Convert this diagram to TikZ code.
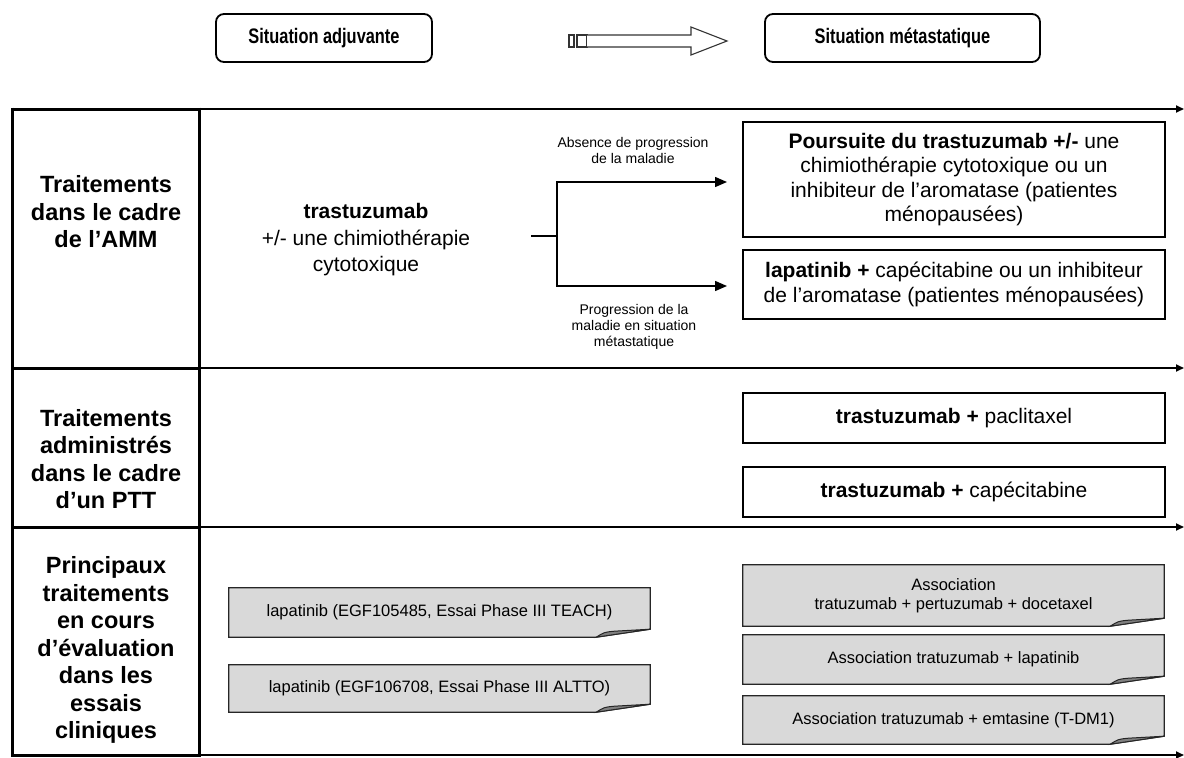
\documentclass[tikz,border=0pt]{standalone}
\usepackage{fontspec}
\setmainfont{Liberation Sans}
\newfontfamily\headfont[FakeStretch=0.78]{Liberation Sans}
\usetikzlibrary{arrows.meta,backgrounds}

\definecolor{boxgray}{RGB}{217,217,217}

% gray note box with a folded lower right corner, drawn round a named node
\newcommand\foldbox[1]{%
  \begin{scope}[on background layer]
    \filldraw[fill=boxgray,draw=black!85,line width=1.2pt]
      (#1.north west) -- (#1.north east) -- ([yshift=8pt]#1.south east)
      -- ([xshift=-54pt]#1.south east) -- (#1.south west) -- cycle;
    \filldraw[fill=black!50,draw=black!85,line width=1pt]
      ([xshift=-54pt]#1.south east)
      .. controls ([xshift=-46pt,yshift=5pt]#1.south east) .. ([xshift=-36pt,yshift=6pt]#1.south east)
      -- ([yshift=8pt]#1.south east) -- cycle;
  \end{scope}}

\begin{document}
\begin{tikzpicture}[x=1pt,y=-1pt,
  lbl/.style={align=center,inner sep=0pt,font=\fontsize{23.5}{27.5}\selectfont\bfseries},
  txt/.style={align=center,inner sep=0pt,font=\fontsize{21}{24.5}\selectfont},
  small/.style={align=center,inner sep=0pt,font=\fontsize{14}{16}\selectfont},
  hbox/.style={draw,line width=1.8pt,rounded corners=8pt,minimum height=48pt,inner sep=0pt,
    font=\headfont\bfseries\fontsize{21}{23}\selectfont},
  wbox/.style={draw,line width=1.3pt,minimum width=422pt,inner sep=0pt,align=center,
    font=\fontsize{21}{24.5}\selectfont},
  gbox/.style={minimum width=421pt,inner sep=0pt,align=center,
    font=\fontsize{16.5}{19.5}\selectfont},
  frame/.style={line width=3pt},
  timeline/.style={line width=1.8pt,-{Triangle[length=8pt,width=7pt]}},
  branch/.style={line width=1.5pt},
  brtip/.style={-{Triangle[length=12pt,width=10pt]}},
  blockarrow/.style={draw=black!80,line width=1.1pt,fill=white}
]
\useasboundingbox (0,0) rectangle (1184,758);

% header
\node[hbox,minimum width=216pt] (hA) at (324,38) {Situation adjuvante};
\node[hbox,minimum width=275pt] (hB) at (902.5,38) {Situation métastatique};

% striped block arrow between the two headers
\draw[blockarrow] (569,35) rectangle (574,47);
\draw[blockarrow] (577,35) rectangle (587,47);
\draw[blockarrow] (587,35) -- (691,35) -- (691,27) -- (727,41) -- (691,55) -- (691,47) -- (587,47);

% table frame: label column and row lines
\coordinate (r0a) at (12,109);  \coordinate (r0b) at (199,109);  \coordinate (r0c) at (1184,109);
\coordinate (r1a) at (12,368);  \coordinate (r1b) at (199,368);  \coordinate (r1c) at (1184,368);
\coordinate (r2a) at (12,527);  \coordinate (r2b) at (199,527);  \coordinate (r2c) at (1184,527);
\coordinate (r3a) at (12,755);  \coordinate (r3b) at (199,755);  \coordinate (r3c) at (1184,755);

\draw[timeline] (r0b) -- (r0c);
\draw[timeline] (r1b) -- (r1c);
\draw[timeline] (r2b) -- (r2c);
\draw[timeline] (r3b) -- (r3c);
\draw[frame] (r0a) -- (r0b);
\draw[frame] (r1a) -- (r1b);
\draw[frame] (r2a) -- (r2b);
\draw[frame] (r3a) -- (r3b);
\draw[frame] ([yshift=1.5pt]r0a) -- ([yshift=-1.5pt]r3a);
\draw[frame] ([yshift=1.5pt]r0b) -- ([yshift=-1.5pt]r3b);

% row labels
\node[lbl] (l1) at (106,212) {Traitements\\dans le cadre\\de l’AMM};
\node[lbl] (l2) at (106,459) {Traitements\\administrés\\dans le cadre\\d’un PTT};
\node[lbl] (l3) at (106,650) {Principaux\\traitements\\en cours\\d’évaluation\\dans les\\essais\\cliniques};

% row 1
\node[txt,font=\fontsize{21}{26.5}\selectfont] (t1) at (366,240)
  {\textbf{trastuzumab}\\+/- une chimiothérapie\\cytotoxique};

\node[wbox,minimum height=115pt] (bA) at (954,179.5)
  {\textbf{Poursuite du trastuzumab +/-} une\\chimiothérapie cytotoxique ou un\\inhibiteur de l’aromatase (patientes\\ménopausées)};
\node[wbox,minimum height=69pt] (bB) at (954,284.5)
  {\textbf{lapatinib +} capécitabine ou un inhibiteur\\de l’aromatase (patientes ménopausées)};

\coordinate (bs) at (531,236);
\coordinate (bj) at (557,236);
\coordinate (up) at (727,182);
\coordinate (dn) at (727,286);
\draw[branch] (bs) -- (bj);
\draw[branch,brtip] (bj) |- (up);
\draw[branch,brtip] (bj) |- (dn);

\node[small] (s1) at (633,150) {Absence de progression\\de la maladie};
\node[small] (s2) at (634,327) {Progression de la\\maladie en situation\\métastatique};

% row 2
\node[wbox,minimum height=50pt] (bC) at (954,418) {\textbf{trastuzumab +} paclitaxel};
\node[wbox,minimum height=50pt] (bD) at (954,492) {\textbf{trastuzumab +} capécitabine};

% row 3
\node[gbox,minimum height=49pt] (gE1) at (439.5,612.5) {lapatinib (EGF105485, Essai Phase III TEACH)};
\node[gbox,minimum height=47pt] (gE2) at (439.5,688.5) {lapatinib (EGF106708, Essai Phase III ALTTO)};
\node[gbox,minimum height=61pt] (gF1) at (953.5,595.5) {Association\\tratuzumab + pertuzumab + docetaxel};
\node[gbox,minimum height=49pt] (gF2) at (953.5,659.5) {Association tratuzumab + lapatinib};
\node[gbox,minimum height=48pt] (gF3) at (953.5,720) {Association tratuzumab + emtasine (T-DM1)};
\foldbox{gE1}
\foldbox{gE2}
\foldbox{gF1}
\foldbox{gF2}
\foldbox{gF3}
\end{tikzpicture}
\end{document}
